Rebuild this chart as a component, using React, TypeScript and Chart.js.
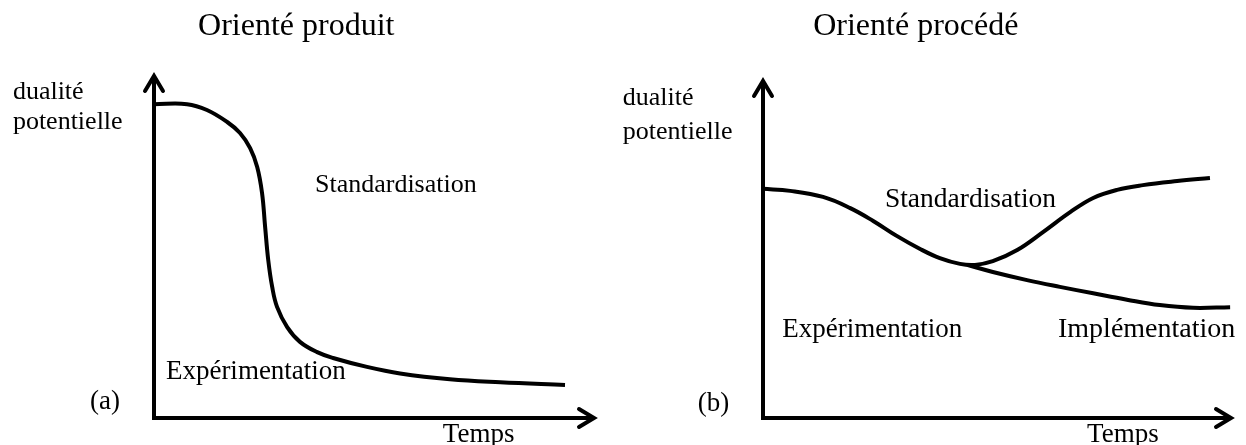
import React, { useEffect, useRef } from "react";
import { Chart, registerables } from "chart.js";

Chart.register(...registerables);

// ---------- Data (panel a : Orienté produit) ----------
const timeA = [0, 7.5, 12.0, 16.6, 19.5, 21.8, 23.4, 24.5, 25.2, 25.9, 26.8, 27.9, 30.2, 33.1, 37.0, 40.6, 48.3, 55.8, 67.1, 78.5, 93.2];
const dualiteA = [91.5, 91.5, 89.8, 86.3, 83.1, 78.7, 73.2, 65.6, 55.7, 46.1, 38.2, 32.4, 26.5, 22.2, 19.2, 17.5, 14.9, 13.0, 11.3, 10.4, 9.6];

// ---------- Data (panel b : Orienté procédé) ----------
// Expérimentation then Standardisation branch
const timeB = [0, 5.8, 12.8, 18.6, 23.5, 28.6, 33.5, 37.7, 42.0, 45.2, 49.0, 54.2, 59.7, 65.5, 70.4, 75.5, 81.0, 88.3, 95.3];
const dualiteB = [67.8, 67.2, 65.4, 62.1, 58.3, 53.8, 50.0, 47.3, 45.6, 45.3, 46.4, 49.7, 55.0, 60.9, 65.1, 67.5, 68.9, 70.1, 71.0];
// Implémentation branch
const timeBLow = [43.5, 49.0, 56.3, 63.3, 70.4, 77.6, 84.6, 91.7, 99.6];
const dualiteBLow = [45.3, 43.2, 40.8, 38.8, 36.9, 35.0, 33.4, 32.6, 32.8];

// ---------- Texts ----------
const titlesText = ["Orienté produit", "Orienté procédé"];
const yAxisText = ["dualité", "potentielle"];
const xAxisText = "Temps";
const panelTags = ["(a)", "(b)"];
const phaseText = ["Standardisation", "Expérimentation", "Implémentation"];

const FONT = "'Liberation Serif', 'Times New Roman', serif";

type Label = { text: string; x: number; y: number; size: number };

const zip = (xs: number[], ys: number[]) => xs.map((x, i) => ({ x, y: ys[i] }));

const axesPlugin = {
  id: "arrowAxes",
  afterDraw(chart: any) {
    const { ctx, scales } = chart;
    const x0 = scales.x.getPixelForValue(0);
    const x1 = scales.x.getPixelForValue(100);
    const y0 = scales.y.getPixelForValue(0);
    const y1 = scales.y.getPixelForValue(100);
    ctx.save();
    ctx.strokeStyle = "#000";
    ctx.lineWidth = 4;
    ctx.lineJoin = "miter";
    ctx.lineCap = "butt";
    ctx.beginPath();
    ctx.moveTo(x0, y1 + 2);
    ctx.lineTo(x0, y0);
    ctx.lineTo(x1 - 2, y0);
    ctx.stroke();
    ctx.lineCap = "round";
    ctx.beginPath();
    ctx.moveTo(x0 - 9, y1 + 16);
    ctx.lineTo(x0, y1 + 1);
    ctx.lineTo(x0 + 9, y1 + 16);
    ctx.moveTo(x1 - 16, y0 - 9);
    ctx.lineTo(x1 - 1, y0);
    ctx.lineTo(x1 - 16, y0 + 9);
    ctx.stroke();
    ctx.restore();
  },
};

const labelPlugin = {
  id: "panelLabels",
  afterDraw(chart: any, _args: any, opts: any) {
    const { ctx, scales } = chart;
    const items: Label[] = opts.items || [];
    ctx.save();
    ctx.fillStyle = "#000";
    ctx.textAlign = "left";
    ctx.textBaseline = "middle";
    items.forEach((it) => {
      ctx.font = `${it.size}px ${FONT}`;
      ctx.fillText(it.text, scales.x.getPixelForValue(it.x), scales.y.getPixelForValue(it.y));
    });
    ctx.restore();
  },
};

const lineDs = (data: { x: number; y: number }[]) => ({
  data,
  borderColor: "#000",
  borderWidth: 4,
  pointRadius: 0,
  fill: false,
  tension: 0.4,
  clip: false as any,
  borderCapStyle: "butt" as const,
  borderJoinStyle: "round" as const,
});

function makeConfig(datasets: any[], padding: any, labels: Label[]) {
  return {
    type: "line" as const,
    data: { datasets },
    options: {
      responsive: false,
      animation: false as const,
      devicePixelRatio: 1,
      layout: { padding },
      elements: { line: { capBezierPoints: false } },
      scales: {
        x: { type: "linear" as const, min: 0, max: 100, display: false },
        y: { type: "linear" as const, min: 0, max: 100, display: false },
      },
      plugins: {
        legend: { display: false },
        tooltip: { enabled: false },
        panelLabels: { items: labels },
      },
    },
    plugins: [axesPlugin, labelPlugin],
  };
}

export default function App() {
  const refA = useRef<HTMLCanvasElement>(null);
  const refB = useRef<HTMLCanvasElement>(null);

  useEffect(() => {
    const labelsA: Label[] = [
      { text: titlesText[0], x: 10.0, y: 114.0, size: 32 },
      { text: yAxisText[0], x: -32.0, y: 95.0, size: 26 },
      { text: yAxisText[1], x: -32.0, y: 86.3, size: 26 },
      { text: phaseText[0], x: 36.5, y: 67.9, size: 26 },
      { text: phaseText[1], x: 2.7, y: 13.4, size: 27 },
      { text: panelTags[0], x: -14.5, y: 4.7, size: 27 },
      { text: xAxisText, x: 65.5, y: -5.0, size: 27 },
    ];
    const labelsB: Label[] = [
      { text: titlesText[1], x: 10.7, y: 115.7, size: 32 },
      { text: yAxisText[0], x: -29.9, y: 94.7, size: 26 },
      { text: yAxisText[1], x: -29.9, y: 84.6, size: 26 },
      { text: phaseText[0], x: 26.0, y: 64.5, size: 27.5 },
      { text: phaseText[1], x: 4.1, y: 26.0, size: 27 },
      { text: phaseText[2], x: 62.9, y: 26.0, size: 28 },
      { text: panelTags[1], x: -13.9, y: 4.1, size: 27 },
      { text: xAxisText, x: 69.1, y: -5.0, size: 27 },
    ];

    const chartA = new Chart(
      refA.current as HTMLCanvasElement,
      makeConfig([lineDs(zip(timeA, dualiteA))], { left: 154, right: 28, top: 75, bottom: 27 }, labelsA) as any
    );
    const chartB = new Chart(
      refB.current as HTMLCanvasElement,
      makeConfig(
        [lineDs(zip(timeB, dualiteB)), lineDs(zip(timeBLow, dualiteBLow))],
        { left: 140, right: 14, top: 80, bottom: 27 },
        labelsB
      ) as any
    );
    return () => {
      chartA.destroy();
      chartB.destroy();
    };
  }, []);

  return (
    <div style={{ position: "fixed", left: 0, top: 0, width: 1246, height: 445, background: "#fff" }}>
      <canvas ref={refA} width={623} height={445} style={{ position: "absolute", left: 0, top: 0 }} />
      <canvas ref={refB} width={623} height={445} style={{ position: "absolute", left: 623, top: 0 }} />
    </div>
  );
}
